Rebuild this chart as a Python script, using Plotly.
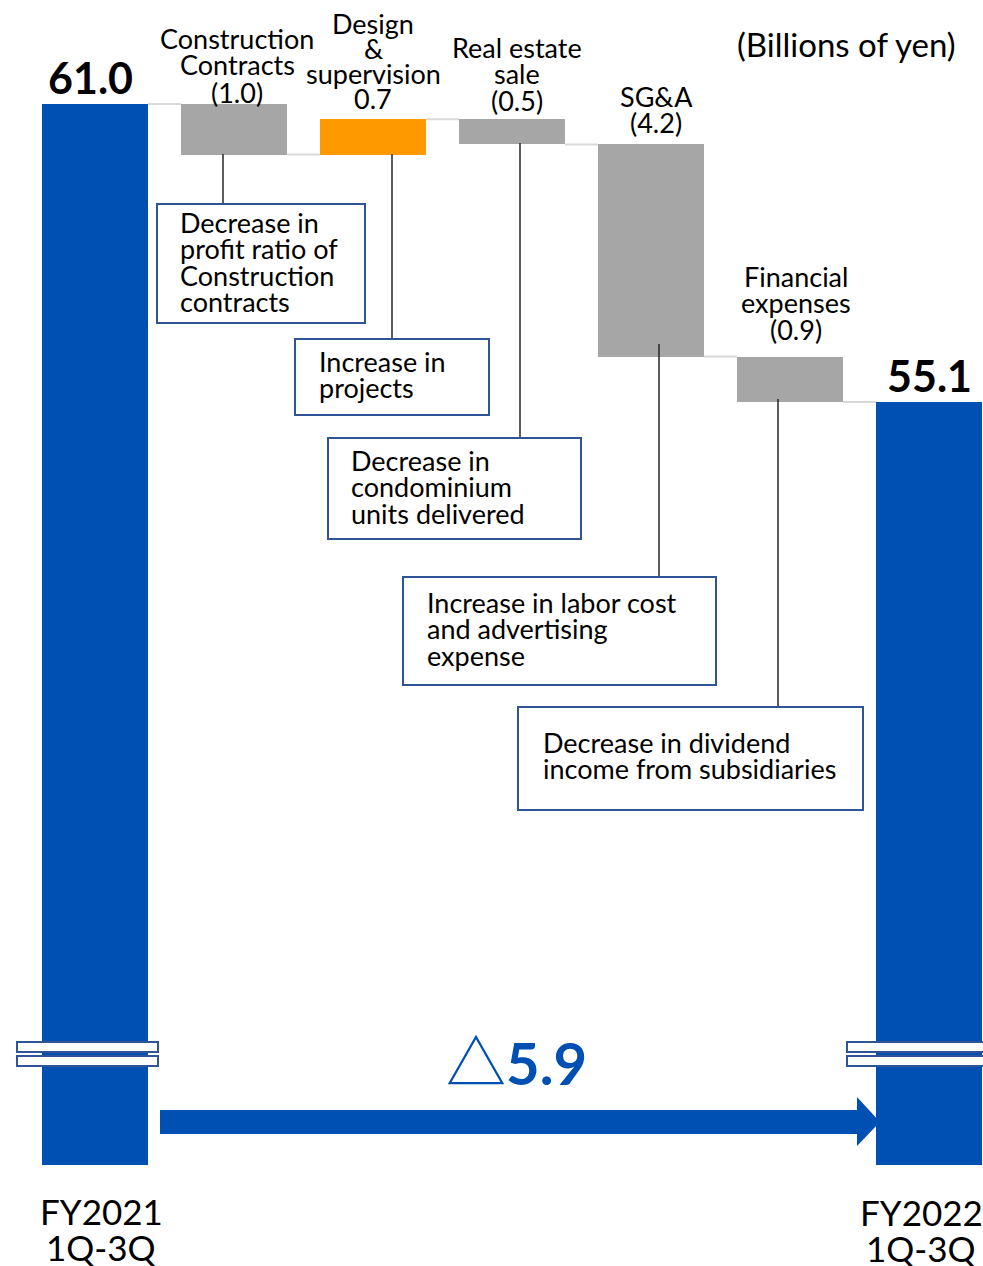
import plotly.graph_objects as go

# ---- data -------------------------------------------------------------
categories = ["FY2021 1Q-3Q", "Construction Contracts", "Design & supervision",
              "Real estate sale", "SG&A", "Financial expenses", "FY2022 1Q-3Q"]
start_value = 61.0
changes = [-1.0, 0.7, -0.5, -4.2, -0.9]
end_value = 55.1
axis_floor = 40.0

period_labels = [["FY2021", "1Q-3Q"], ["FY2022", "1Q-3Q"]]
step_names = [["Construction", "Contracts"], ["Design", "&", "supervision"],
              ["Real estate", "sale"], ["SG&A"], ["Financial", "expenses"]]
factor_notes = [
    ["Decrease in", "profit ratio of", "Construction", "contracts"],
    ["Increase in", "projects"],
    ["Decrease in", "condominium", "units delivered"],
    ["Increase in labor cost", "and advertising", "expense"],
    ["Decrease in dividend", "income from subsidiaries"],
]
unit_label = "(Billions of yen)"

# ---- styling ----------------------------------------------------------
W, H = 983, 1266
BLUE = "#0050B4"
GRAY = "#A6A6A6"
ORANGE = "#FF9900"
BOX_BLUE = "#2F5597"
CONNECTOR = "#D9D9D9"
FONT = "Lato, DejaVu Sans, sans-serif"
BAR_W = 0.763
Y_RANGE = [37.99, 63.06]
X_RANGE = [-95 / 139, (W - 95) / 139]


def px(x):
    return x / W


def py(y):
    return 1 - y / H


def fmt_change(v):
    return f"{v:.1f}" if v > 0 else f"({abs(v):.1f})"


# ---- bar geometry from the data --------------------------------------
xs = list(range(len(categories)))
bases, heights, colors, levels = [], [], [], []
bases.append(axis_floor)
heights.append(start_value - axis_floor)
colors.append(BLUE)
level = start_value
levels.append(level)
for c in changes:
    new = level + c
    bases.append(min(level, new))
    heights.append(abs(c))
    colors.append(ORANGE if c > 0 else GRAY)
    level = new
    levels.append(level)
bases.append(axis_floor)
heights.append(end_value - axis_floor)
colors.append(BLUE)

fig = go.Figure()
fig.add_trace(go.Bar(x=xs, y=heights, base=bases, width=BAR_W,
                     marker=dict(color=colors, line=dict(width=0)),
                     hoverinfo="skip", showlegend=False))

shapes = []
# connectors between neighbouring bars
for i, lv in enumerate(levels):
    shapes.append(dict(type="line", xref="x", yref="y",
                       x0=i + BAR_W / 2, x1=i + 1 - BAR_W / 2, y0=lv, y1=lv,
                       line=dict(color=CONNECTOR, width=2), layer="below"))

annotations = []


def add_lines(lines, x, y_first, pitch, size, color="black", bold=False,
              anchor="center"):
    for k, t in enumerate(lines):
        annotations.append(dict(
            xref="paper", yref="paper", x=px(x), y=py(y_first + k * pitch),
            text=f"<b>{t}</b>" if bold else t, showarrow=False,
            xanchor=anchor, yanchor="middle",
            font=dict(family=FONT, size=size, color=color)))


# step labels (name lines + value)
step_label_pos = [(237, 38, 27), (373, 24, 24.8), (517, 47.5, 26.5),
                  (656, 96, 27), (796, 276, 26.5)]
for names, ch, (lx, ly, pitch) in zip(step_names, changes, step_label_pos):
    add_lines(names + [fmt_change(ch)], lx, ly, pitch, 27)

# totals
annotations.append(dict(xref="paper", yref="paper", x=px(90), y=py(78),
                        text=f"<b>{start_value:.1f}</b>", showarrow=False,
                        xanchor="center", yanchor="middle",
                        font=dict(family=FONT, size=43, color="black")))
annotations.append(dict(xref="paper", yref="paper", x=px(929), y=py(375),
                        text=f"<b>{end_value:.1f}</b>", showarrow=False,
                        xanchor="center", yanchor="middle",
                        font=dict(family=FONT, size=43, color="black")))

# unit
annotations.append(dict(xref="paper", yref="paper", x=px(846.5), y=py(44),
                        text=unit_label, showarrow=False,
                        xanchor="center", yanchor="middle",
                        font=dict(family=FONT, size=33, color="black")))

# period labels under the total bars
add_lines(period_labels[0], 101, 1211, 36, 35)
add_lines(period_labels[1], 921, 1212, 36, 35)

# factor note boxes with leader lines
boxes = [  # (x0, y0, x1, y1, text_x, first_line_y, leader_x, leader_y0)
    (157, 204, 365, 323, 178, 222, 223, 154),
    (295, 339, 489, 415, 317, 361, 392, 154),
    (328, 438, 581, 539, 349, 460, 520, 143),
    (403, 577, 716, 685, 425, 602, 659, 344),
    (518, 707, 863, 810, 541, 742, 778, 399),
]
for note, (x0, y0, x1, y1, tx, ty, lx, ly0) in zip(factor_notes, boxes):
    shapes.append(dict(type="line", xref="paper", yref="paper",
                       x0=px(lx), x1=px(lx), y0=py(ly0), y1=py(y0),
                       line=dict(color="#262626", width=1.5)))
    shapes.append(dict(type="rect", xref="paper", yref="paper",
                       x0=px(x0), x1=px(x1), y0=py(y0), y1=py(y1),
                       fillcolor="white", line=dict(color=BOX_BLUE, width=2)))
    add_lines(note, tx, ty, 26.5, 27, anchor="left")

# axis break marks on both total bars
for bx0, bx1 in [(17, 158), (847, 990)]:
    for by0, by1 in [(1042, 1052), (1056, 1066)]:
        shapes.append(dict(type="rect", xref="paper", yref="paper",
                           x0=px(bx0), x1=px(bx1), y0=py(by0), y1=py(by1),
                           fillcolor="white", line=dict(color=BOX_BLUE, width=2)))

# overall change arrow
shapes.append(dict(type="rect", xref="paper", yref="paper",
                   x0=px(160), x1=px(858), y0=py(1110), y1=py(1134),
                   fillcolor=BLUE, line=dict(width=0)))
shapes.append(dict(type="path", xref="paper", yref="paper",
                   path=(f"M {px(857)},{py(1097)} L {px(880)},{py(1122)} "
                         f"L {px(857)},{py(1146)} Z"),
                   fillcolor=BLUE, line=dict(width=0)))

total_change = end_value - start_value
annotations.append(dict(
    xref="paper", yref="paper", x=px(516), y=py(1058),
    text=(f"<span style=\"font-family:'Noto Sans CJK JP';font-size:60px\">△</span>"
          f"<b>{abs(total_change):.1f}</b>"),
    showarrow=False, xanchor="center", yanchor="middle",
    font=dict(family=FONT, size=58, color=BLUE)))

fig.update_layout(
    width=W, height=H, autosize=False,
    margin=dict(l=0, r=0, t=0, b=0, pad=0),
    paper_bgcolor="white", plot_bgcolor="white",
    xaxis=dict(range=X_RANGE, visible=False, fixedrange=True),
    yaxis=dict(range=Y_RANGE, visible=False, fixedrange=True),
    shapes=shapes, annotations=annotations, bargap=0,
)

fig.write_html("out.html")
